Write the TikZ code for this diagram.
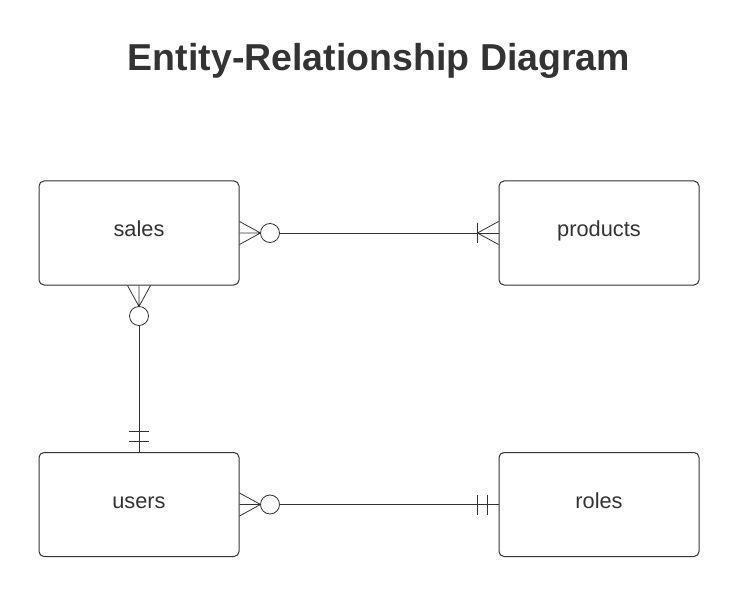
\documentclass[tikz,border=0pt]{standalone}
\usepackage{fontspec}
\setmainfont{Liberation Sans}
\usepackage{tikz}
\usetikzlibrary{positioning,calc}
\definecolor{ink}{HTML}{333333}

\begin{document}
\begin{tikzpicture}[x=1pt,y=-1pt,on grid,
    entity/.style={draw=ink,line width=1pt,rounded corners=5pt,
      minimum width=200pt,minimum height=104pt,text height=13pt,text depth=5pt,
      font=\fontsize{21.8}{24}\selectfont,text=ink},
    rel/.style={draw=ink,line width=0.8pt},
    optional/.style={circle,draw=ink,line width=0.8pt,inner sep=0pt,minimum size=19pt}]
    \useasboundingbox (0,0) rectangle (735,601);
    \node[font=\fontsize{37.5}{42}\bfseries\selectfont,text=ink] (title) at (379,61) {Entity-Relationship Diagram};
    \node[entity] (sales) at (139,233) {sales};
    \node[entity] (products) [right = 460pt of sales] {products};
    \node[entity] (users) [below = 271.5pt of sales] {users};
    \node[entity] (roles) [right = 460pt of users] {roles};
    % zero or many at sales, one or many at products
    \node[optional] (o1) at ($(sales.east)+(30.5,0)$) {};
    \draw[rel] (o1) -- (products.west);
    \draw[rel] ($(sales.east)+(0,-11.5)$) -- ($(sales.east)+(21,0)$) -- ($(sales.east)+(0,11.5)$)
      (sales.east) -- ($(sales.east)+(21,0)$);
    \draw[rel] ($(products.west)+(0,-11.5)$) -- ($(products.west)+(-21,0)$) -- ($(products.west)+(0,11.5)$)
      ($(products.west)+(-21,-10)$) -- ($(products.west)+(-21,10)$);
    % zero or many at sales, exactly one at users
    \node[optional] (o2) at ($(sales.south)+(0,30.5)$) {};
    \draw[rel] (o2) -- (users.north);
    \draw[rel] ($(sales.south)+(-11.5,0)$) -- ($(sales.south)+(0,21)$) -- ($(sales.south)+(11.5,0)$)
      (sales.south) -- ($(sales.south)+(0,21)$);
    \draw[rel] ($(users.north)+(-10,-21)$) -- ($(users.north)+(10,-21)$)
      ($(users.north)+(-10,-11)$) -- ($(users.north)+(10,-11)$);
    % zero or many at users, exactly one at roles
    \node[optional] (o3) at ($(users.east)+(30.5,0)$) {};
    \draw[rel] (o3) -- (roles.west);
    \draw[rel] ($(users.east)+(0,-11.5)$) -- ($(users.east)+(21,0)$) -- ($(users.east)+(0,11.5)$)
      (users.east) -- ($(users.east)+(21,0)$);
    \draw[rel] ($(roles.west)+(-21,-10)$) -- ($(roles.west)+(-21,10)$)
      ($(roles.west)+(-11,-10)$) -- ($(roles.west)+(-11,10)$);
\end{tikzpicture}
\end{document}
